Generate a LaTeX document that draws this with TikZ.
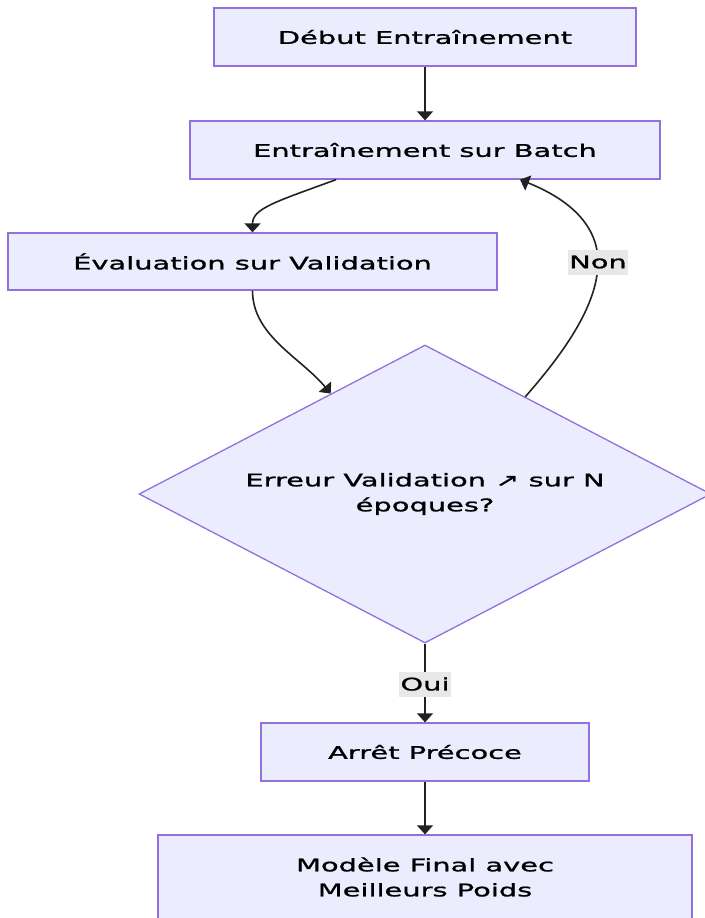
\documentclass[tikz,border=0pt]{standalone}
\usepackage{fontspec}
\setmainfont{DejaVu Sans}[FakeStretch=1.66,FakeBold=1.2]
\usetikzlibrary{shapes.geometric,arrows.meta,calc}
\definecolor{boxfill}{HTML}{ECECFF}
\definecolor{boxline}{HTML}{9370DB}
\definecolor{edgecol}{HTML}{222222}
\definecolor{lblbg}{HTML}{E8E8E8}
\newcommand\diagfont{\fontsize{17.4pt}{25pt}\selectfont}
\begin{document}
\begin{tikzpicture}[x=1pt,y=-1pt,
  box/.style={draw=boxline, fill=boxfill, line width=1.3pt, inner sep=0pt,
    align=center, font=\diagfont, text=black},
  decision/.style={box, shape=diamond, shape aspect=1.92,
    minimum width=572pt, minimum height=298pt},
  arr/.style={draw=edgecol, line width=1.6pt,
    -{Triangle[length=9pt,width=16pt]}},
  lbl/.style={fill=lblbg, inner xsep=1pt, inner ysep=0pt, minimum height=25pt,
    font=\diagfont, text=black}]
\useasboundingbox (0,0) rectangle (704,918);

% process steps
\node[box, minimum width=422pt, minimum height=58pt] (deb) at (425,37) {Début Entraînement};
\node[box, minimum width=470pt, minimum height=58pt] (batch) at (425,150) {Entraînement sur Batch};
\node[box, minimum width=489pt, minimum height=57pt] (eval) at (252.5,261.5) {Évaluation sur Validation};
\node[decision] (dec) at (425,494) {Erreur Validation ↗ sur N\\époques?};
\node[box, minimum width=328pt, minimum height=58pt] (arret) at (425,752) {Arrêt Précoce};
\node[box, minimum width=534pt, minimum height=84pt] (final) at (425,877) {Modèle Final avec\\Meilleurs Poids};

% flow
\draw[arr] (deb.south) -- (batch.north);
\draw[arr] ([xshift=-89pt]batch.south) .. controls +(-60,22) and +(0,-24) .. (eval.north);
\draw[arr] (eval.south) .. controls +(0,45) and +(-30,-36) .. ($(dec.west)!0.671!(dec.north)$);
\draw[arr] ($(dec.east)!0.65!(dec.north)$) .. controls +(35,-40) and +(0,45) .. (598,262)
  .. controls +(0,-45) and +(35,14) .. ([xshift=95pt]batch.south);
\node[lbl] (non) at (598,262) {Non};
\draw[arr] (dec.south) -- (arret.north);
\node[lbl] (oui) at (425,684) {Oui};
\draw[arr] (arret.south) -- (final.north);
\end{tikzpicture}
\end{document}
